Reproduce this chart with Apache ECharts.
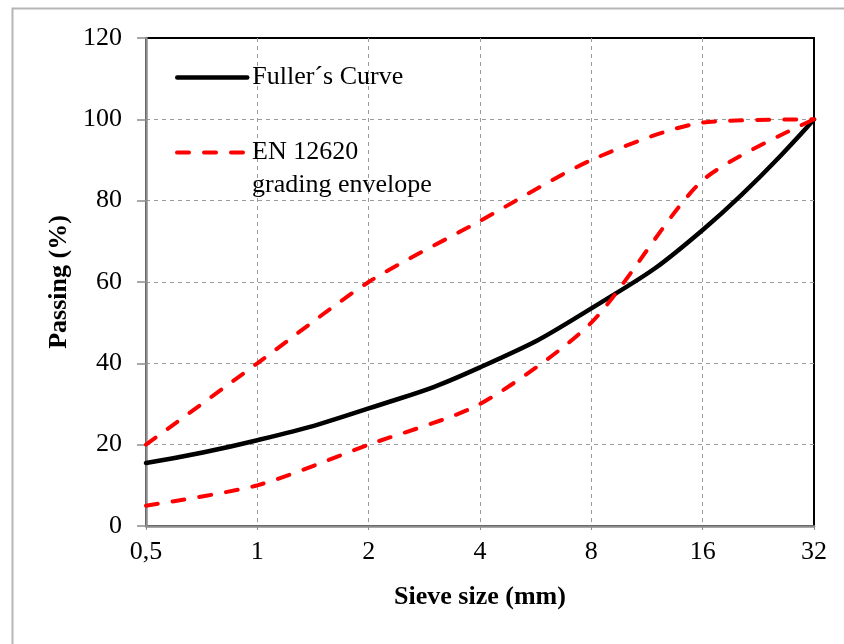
<!DOCTYPE html>
<html>
<head>
<meta charset="utf-8">
<script src="https://cdn.jsdelivr.net/npm/echarts@6/dist/echarts.min.js"></script>
<style>
  html, body { margin: 0; padding: 0; background: #fff; }
  #main { width: 844px; height: 644px; }
</style>
</head>
<body>
<div id="main"></div>
<script>
// sieve sizes (mm) and passing (%)
const sieves = [0.5, 1, 2, 4, 8, 16, 32];
const fuller = [15.5, 21.1, 28.9, 39, 53.5, 72.8, 100];
const envelopeUpper = [20, 40, 60, 75, 90, 99.2, 100];
const envelopeLower = [5, 10, 20, 30, 50, 85, 100];

const fullerName = 'Fuller´s Curve';
const envName = 'EN 12620 grading envelope';

const font = 'Liberation Serif, Times New Roman, serif';
const fs = 26;
const pairs = (ys) => sieves.map((x, i) => [x, ys[i]]);

const chart = echarts.init(document.getElementById('main'));

const option = {
  backgroundColor: '#fff',
  animation: false,
  textStyle: { fontFamily: font, color: '#000' },
  graphic: [
    {
      type: 'rect',
      left: 10,
      top: 6,
      shape: { width: 900, height: 700 },
      style: { fill: 'none', stroke: '#b5b5b5', lineWidth: 2 },
      silent: true,
    },
  ],
  grid: {
    left: 146,
    right: 30,
    top: 38,
    bottom: 118,
    show: true,
    borderColor: '#000',
    borderWidth: 2,
    backgroundColor: 'transparent',
  },
  // itemHeight is tiny so the line legend draws no symbol dot
  legend: [
    {
      data: [fullerName],
      left: 175,
      top: 61,
      padding: 0,
      itemWidth: 70,
      itemHeight: 0.01,
      itemGap: 0,
      selectedMode: false,
      textStyle: { fontFamily: font, fontSize: fs, color: '#000', lineHeight: 33 },
      lineStyle: { width: 4.5, color: '#000', cap: 'round' },
    },
    {
      data: [envName],
      left: 175,
      top: 103,
      padding: 0,
      itemWidth: 70,
      itemHeight: 0.01,
      itemGap: 0,
      selectedMode: false,
      formatter: () => '\nEN 12620\ngrading envelope',
      textStyle: { fontFamily: font, fontSize: fs, color: '#000', lineHeight: 33 },
      lineStyle: { width: 4, color: '#ff0000', type: [12, 15], cap: 'round' },
    },
  ],
  xAxis: {
    type: 'log',
    logBase: 2,
    min: 0.5,
    max: 32,
    interval: 1,
    name: 'Sieve size (mm)',
    nameLocation: 'middle',
    nameGap: 58,
    nameTextStyle: { fontFamily: font, fontSize: fs, fontWeight: 'bold', color: '#000' },
    axisLine: { lineStyle: { color: '#8c8c8c', width: 2.5 } },
    axisTick: { show: true, inside: false, length: 7, lineStyle: { color: '#8c8c8c', width: 1, type: [4, 3] } },
    axisLabel: {
      fontFamily: font,
      fontSize: fs,
      color: '#000',
      margin: 13,
      formatter: (v) => String(Math.round(v * 10) / 10).replace('.', ','),
    },
    splitLine: {
      show: true,
      showMinLine: false,
      showMaxLine: false,
      lineStyle: { color: '#9a9a9a', width: 1, type: [4, 4] },
    },
    minorTick: { show: false },
  },
  yAxis: {
    type: 'value',
    min: 0,
    max: 120,
    interval: 20,
    name: 'Passing (%)',
    nameLocation: 'middle',
    nameGap: 71,
    nameTextStyle: { fontFamily: font, fontSize: fs, fontWeight: 'bold', color: '#000' },
    axisLine: { show: true, lineStyle: { color: '#8c8c8c', width: 2.5 } },
    axisTick: { show: true, inside: false, length: 9, lineStyle: { color: '#8c8c8c', width: 1.5 } },
    axisLabel: { fontFamily: font, fontSize: fs, color: '#000', margin: 24 },
    splitLine: {
      show: true,
      showMinLine: false,
      showMaxLine: false,
      lineStyle: { color: '#9a9a9a', width: 1, type: [4, 4] },
    },
  },
  series: [
    {
      name: fullerName,
      type: 'line',
      data: pairs(fuller),
      smooth: 0.5,
      symbol: 'none',
      lineStyle: { color: '#000', width: 4.5, cap: 'round' },
      itemStyle: { color: '#000' },
      z: 3,
    },
    {
      name: envName,
      type: 'line',
      data: pairs(envelopeUpper),
      smooth: 0.25,
      symbol: 'none',
      lineStyle: { color: '#ff0000', width: 4, type: [12, 15], cap: 'round' },
      itemStyle: { color: '#ff0000' },
      z: 4,
    },
    {
      name: envName,
      type: 'line',
      data: pairs(envelopeLower),
      smooth: 0.25,
      symbol: 'none',
      lineStyle: { color: '#ff0000', width: 4, type: [12, 15], cap: 'round' },
      itemStyle: { color: '#ff0000' },
      z: 4,
    },
  ],
};

chart.setOption(option);
window.onresize = () => {
  chart.resize();
};
</script>
</body>
</html>
